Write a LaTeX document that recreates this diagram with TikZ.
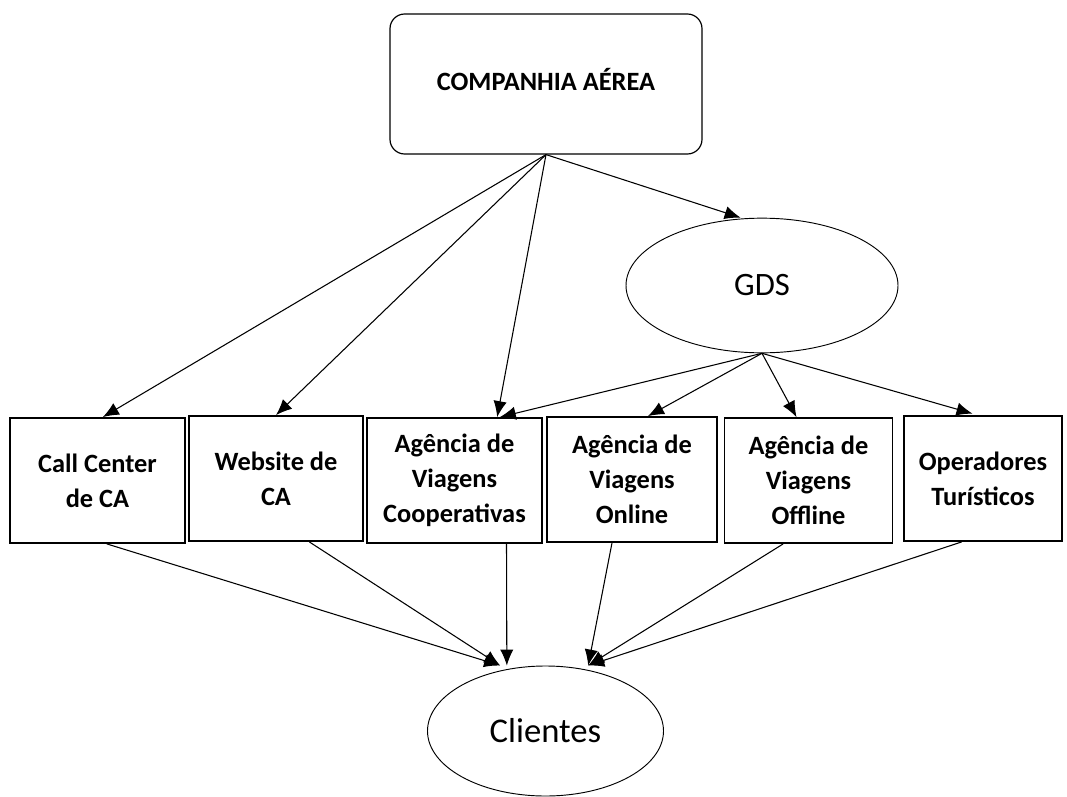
\documentclass[tikz,border=0pt]{standalone}
\usepackage{fontspec}
\setmainfont{Carlito}
\usepackage{tikz}
\usetikzlibrary{shapes.geometric, arrows.meta, positioning}

\tikzset{
  caixa/.style={draw, line width=1.1pt, minimum height=94pt, inner sep=1pt,
    align=center, font=\fontsize{19.8}{26.3}\selectfont\bfseries},
  elipse/.style={draw, ellipse, line width=0.7pt, inner sep=0pt},
  seta/.style={line width=0.8pt, -{Latex[length=12pt,width=10pt]}}
}

\begin{document}
\begin{tikzpicture}[x=0.75pt, y=-0.75pt]
\useasboundingbox (0,0) rectangle (1067,796);

% Topo (companhia)
\node[draw, rounded corners=11pt, line width=0.9pt, minimum width=234pt, minimum height=105pt,
  font=\fontsize{19.8}{22}\selectfont\bfseries] (ca) at (546,84) {\raisebox{7pt}{COMPANHIA AÉREA}};

% GDS
\node[elipse, minimum width=204pt, minimum height=101pt, font=\fontsize{24.5}{28}\selectfont] (gds) at (762,285.5) {GDS};

% Canais
\node[caixa, minimum width=131pt] (cc) at (97.5,480.5) {\raisebox{-2pt}{Call Center}\\\raisebox{-2pt}{de CA}};
\node[caixa, minimum width=130.5pt] (ws) at (276,478.5) {\raisebox{-2pt}{Website de}\\\raisebox{-2pt}{CA}};
\node[caixa, minimum width=131pt] (avc) at (454.5,480.5) {Agência de\\Viagens\\Cooperativas};
\node[caixa, minimum width=127.5pt] (avon) at (632,479.5) {Agência de\\Viagens\\Online};
\node[caixa, minimum width=126pt] (avoff) at (808.5,480.5) {Agência de\\Viagens\\Offline};
\node[caixa, minimum width=118.5pt] (op) at (983,478.5) {Operadores\\Turísticos};

% Clientes
\node[elipse, minimum width=177pt, minimum height=97.5pt, font=\fontsize{26}{30}\selectfont] (cl) at (545.5,731) {Clientes};

\coordinate (cl-l) at ([xshift=-34pt]cl.north);
\coordinate (cl-c) at ([xshift=-29pt]cl.north);
\coordinate (cl-r) at ([xshift=32pt]cl.north);

% companhia -> canais
\draw[seta] (ca.south) -- ([xshift=4pt]cc.north);
\draw[seta] (ca.south) -- (ws.north);
\draw[seta] (ca.south) -- ([xshift=32pt]avc.north);
\draw[seta] (ca.south) -- ([xshift=-16pt]gds.north);

% GDS -> agencias
\draw[seta] (gds.south) -- ([xshift=34pt]avc.north);
\draw[seta] (gds.south) -- ([xshift=12pt]avon.north);
\draw[seta] (gds.south) -- ([xshift=-9pt]avoff.north);
\draw[seta, shorten >=4pt] (gds.south) -- ([xshift=-4pt]op.north);

% canais -> clientes
\draw[seta] ([xshift=7pt]cc.south) -- (cl-l);
\draw[seta] ([xshift=25pt]ws.south) -- (cl-l);
\draw[seta] ([xshift=39pt]avc.south) -- (cl-c);
\draw[seta] ([xshift=-15pt]avon.south) -- (cl-r);
\draw[seta] ([xshift=-19pt]avoff.south) -- (cl-r);
\draw[seta] ([xshift=-16pt]op.south) -- (cl-r);
\end{tikzpicture}
\end{document}
